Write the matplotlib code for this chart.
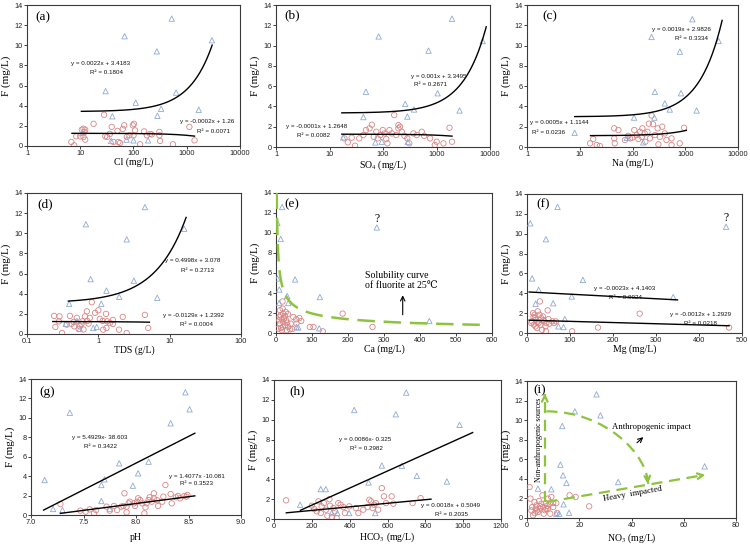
import numpy as np
import matplotlib
matplotlib.use('Agg')
import matplotlib.pyplot as plt
from matplotlib.ticker import FuncFormatter, NullLocator
from matplotlib.path import Path
from matplotlib.patches import PathPatch

plt.rcParams['font.family'] = ['Liberation Sans', 'DejaVu Sans']
plt.rcParams['mathtext.fontset'] = 'stix'

SERIF = ['Liberation Serif', 'DejaVu Serif', 'DejaVu Sans']
EQF = ['Liberation Sans', 'DejaVu Sans']
TRI_C = '#8eaad6'
CIR_C = '#d98585'
GREEN = '#8cc43c'

# ---------------- data ----------------
# (a) Cl
cl_tri_x = [11, 30, 40, 38, 68, 74, 100, 110, 188, 274, 281, 330, 522, 630, 1680, 2970]
cl_tri_f = [1.3, 5.45, 2.95, 0.5, 10.9, 0.63, 0.56, 4.3, 0.56, 9.4, 3.0, 3.7, 12.65, 5.3, 3.6, 10.5]
cl_cir_x = [6.8, 7.7, 8.4, 10.0, 10.7, 11.5, 11.5, 12.0, 12.4, 12.4, 17.8, 28, 29.5, 32, 36, 39, 42, 50, 52, 56,
            63, 67, 75, 84, 97, 100, 102, 107, 133, 158, 178, 205, 220, 306, 306, 316, 550, 1120, 1400]
cl_cir_f = [0.4, 0.07, 0.96, 0.96, 1.62, 1.72, 0.9, 1.39, 1.62, 0.63, 2.2, 3.1, 0.96, 0.9, 1.2, 1.9, 0.4, 1.5, 0.4, 0.3,
            1.7, 2.05, 0.9, 1.06, 2.05, 1.06, 2.2, 1.55, 0.17, 1.45, 1.06, 1.2, 1.15, 1.4, 1.06, 0.5, 0.17, 1.9, 0.56]
# (b) SO4
so4_tri_x = [18, 48, 43, 72, 83, 95, 260, 285, 290, 380, 710, 1050, 1950, 2700, 7300]
so4_tri_f = [0.95, 5.45, 2.95, 0.45, 10.9, 0.52, 4.25, 3.0, 0.52, 3.7, 9.5, 5.3, 12.65, 3.6, 10.45]
so4_cir_x = [19, 22, 26, 30, 36, 43, 48, 56, 62, 67, 75, 80, 89, 99, 107, 115, 121, 132, 146, 162,
             177, 194, 208, 194, 225, 252, 285, 310, 370, 428, 530, 590, 760, 1010, 1350, 1750, 1950, 930]
so4_cir_f = [0.85, 0.46, 0.92, 0.13, 0.85, 1.18, 1.67, 1.84, 2.2, 1.0, 1.5, 0.85, 1.18, 1.67, 1.34, 0.79, 0.36, 1.67, 1.34, 3.15,
             1.18, 1.84, 2.0, 2.16, 1.5, 1.1, 0.85, 0.36, 1.34, 1.18, 1.5, 1.1, 0.85, 0.52, 0.36, 1.9, 0.52, 0.2]
# (c) Na
na_tri_x = [8, 78, 107, 160, 230, 260, 266, 410, 510, 790, 830, 1360, 1640, 4300]
na_tri_f = [1.4, 0.9, 2.9, 0.46, 10.85, 2.9, 5.45, 4.3, 3.7, 9.4, 5.3, 12.6, 3.6, 10.45]
na_cir_x = [15.7, 18, 21, 24, 45, 54, 45, 46, 72, 83, 90, 99, 108, 120, 129, 139, 150, 154, 170, 175,
            192, 204, 214, 230, 245, 267, 300, 330, 366, 410, 440, 550, 950, 785, 310, 550]
na_cir_f = [0.36, 0.79, 0.2, 0.1, 1.84, 1.67, 0.85, 0.36, 0.69, 1.1, 0.85, 0.92, 1.67, 1.18, 0.79, 1.5, 1.0, 1.84, 1.34, 0.52,
            1.5, 2.3, 0.85, 3.1, 2.25, 1.18, 1.84, 1.0, 2.0, 1.34, 0.69, 0.2, 1.9, 0.36, 0.26, 0.85]
# (d) TDS
tds_tri_x = [0.35, 0.39, 0.5, 0.55, 0.67, 0.78, 0.85, 0.95, 1.1, 1.3, 1.96, 2.5, 3.15, 4.5, 6.7, 16]
tds_tri_f = [1.0, 3.0, 1.3, 0.5, 10.9, 5.45, 0.6, 0.7, 3.0, 4.3, 3.7, 9.4, 5.3, 12.6, 3.6, 10.45]
tds_cir_x = [0.24, 0.285, 0.25, 0.28, 0.31, 0.36, 0.4, 0.46, 0.5, 0.53, 0.55, 0.6, 0.65, 0.69, 0.73, 0.76, 0.81, 0.9, 1.0, 1.05,
             1.17, 1.28, 1.33, 1.45, 1.6, 1.3, 1.95, 2.2, 2.5, 1.6, 4.5, 5.0, 0.45, 0.62, 0.7, 1.15, 0.42, 0.58]
tds_cir_f = [1.8, 1.75, 0.7, 1.25, 0.1, 0.93, 1.8, 0.76, 1.6, 0.5, 0.76, 1.26, 1.75, 2.25, 1.03, 1.6, 3.15, 2.1, 2.35, 1.5,
             0.43, 2.0, 1.26, 1.1, 1.4, 0.6, 0.43, 1.7, 0.1, 1.0, 1.9, 0.6, 1.2, 0.45, 1.3, 1.3, 1.0, 1.0]
# (e) Ca
ca_tri_x = [4, 9, 13, 17, 4, 9, 31, 34, 53, 57, 62, 120, 122, 280, 426]
ca_tri_f = [11.0, 3.0, 9.4, 12.6, 5.45, 4.35, 3.7, 3.0, 5.35, 0.6, 0.55, 0.47, 3.6, 10.55, 1.2]
ca_cir_x = [11, 18.5, 20, 13, 25, 16, 28, 20, 11, 31, 25, 18.5, 34, 30, 39, 16, 6.5, 9, 41, 48,
            56, 57, 94, 104, 130, 185, 268, 70, 65, 45, 18, 22, 14, 27, 33, 10]
ca_cir_f = [2.28, 2.44, 1.94, 1.77, 1.7, 1.37, 1.27, 1.1, 0.94, 1.04, 0.77, 0.6, 0.6, 0.27, 0.37, 0.27, 0.44, 1.27, 0.94, 1.6,
            1.37, 0.94, 0.6, 0.6, 0.17, 1.94, 0.6, 1.2, 1.5, 0.4, 3.15, 1.45, 0.5, 2.1, 1.9, 1.6]
fluorite_k = 19.5          # F = k / sqrt(Ca), fluorite solubility at 25 C
fluorite_ca_range = (1.9, 570)
# (f) Mg
mg_tri_x = [7.6, 12, 20, 27, 44, 61, 71, 73, 85, 88, 104, 130, 340, 463]
mg_tri_f = [11.05, 5.5, 2.95, 4.35, 9.45, 3.0, 12.7, 0.67, 0.6, 1.4, 3.68, 5.35, 3.62, 10.7]
mg_cir_x = [14, 17.5, 12, 21, 25, 20, 29, 27, 33, 30, 37, 35, 40, 43, 44, 48, 50, 52, 16, 23,
            10, 59, 63, 67, 105, 165, 262, 470, 18, 24, 31, 38, 15, 45]
mg_cir_f = [2.0, 1.84, 1.17, 1.34, 2.18, 0.67, 1.84, 1.0, 1.5, 3.18, 1.67, 0.33, 1.17, 0.67, 0.17, 2.28, 1.4, 0.94, 0.84, 0.5,
            1.0, 1.17, 1.0, 1.17, 0.17, 0.55, 1.95, 0.55, 1.5, 1.1, 0.8, 1.3, 1.6, 1.0]
# (g) pH
ph_tri_x = [7.13, 7.21, 7.30, 7.37, 7.67, 7.67, 7.70, 7.75, 7.84, 7.97, 8.02, 8.12, 8.33, 8.47, 8.51]
ph_tri_f = [3.6, 0.62, 0.51, 10.53, 3.09, 1.44, 3.67, 0.62, 5.32, 3.02, 4.29, 5.49, 9.44, 12.63, 10.88]
ph_cir_x = [7.28, 7.47, 7.52, 7.56, 7.60, 7.62, 7.72, 7.75, 7.79, 7.82, 7.86, 7.88, 7.89, 7.91, 7.91, 7.93, 7.94, 7.98, 7.99, 8.01,
            8.02, 8.04, 8.06, 8.08, 8.09, 8.10, 8.12, 8.13, 8.15, 8.17, 8.17, 8.20, 8.21, 8.25, 8.26, 8.28, 8.33, 8.34, 8.38, 8.40,
            8.42, 8.46, 8.48, 8.49]
ph_cir_f = [1.13, 0.45, 0.34, 0.58, 0.17, 0.51, 0.86, 0.45, 0.93, 0.51, 0.86, 0.93, 2.23, 0.86, 0.27, 1.2, 1.37, 1.2, 0.93, 1.37,
            1.72, 1.54, 1.2, 0.17, 0.79, 1.2, 1.54, 1.82, 1.37, 2.23, 1.72, 1.54, 0.93, 1.37, 1.89, 3.09, 2.16, 1.2, 1.82, 1.96,
            1.72, 1.96, 1.89, 2.06]
# (h) HCO3
hco3_tri_x = [138, 247, 274, 305, 335, 397, 424, 500, 535, 570, 644, 676, 699, 755, 914, 981]
hco3_tri_f = [1.44, 3.01, 3.01, 0.6, 0.6, 0.6, 10.98, 3.68, 0.6, 5.39, 10.55, 5.36, 12.73, 4.35, 3.78, 9.48]
hco3_cir_x = [64, 200, 212, 226, 235, 247, 252, 264, 275, 282, 293, 296, 307, 314, 322, 331, 340, 352, 367, 375,
              398, 433, 446, 472, 494, 504, 513, 522, 529, 539, 551, 570, 581, 592, 622, 631, 733, 775]
hco3_cir_f = [1.88, 1.34, 1.0, 0.77, 1.78, 0.6, 1.27, 1.6, 0.94, 0.33, 2.0, 1.34, 0.2, 1.1, 0.77, 0.1, 1.6, 1.44, 1.2, 0.6,
              1.27, 1.1, 0.6, 0.94, 1.2, 1.94, 1.78, 1.1, 1.44, 1.6, 0.94, 3.11, 2.28, 1.6, 2.28, 1.54, 1.6, 2.1]
# (i) NO3
no3_tri_x = [4.2, 9.3, 11.2, 12.3, 12.8, 13.5, 13.8, 14.0, 15.1, 16.1, 18.3, 26.6, 28.1, 34.9, 68]
no3_tri_f = [3.0, 2.93, 0.44, 0.44, 5.45, 9.4, 4.36, 1.4, 3.58, 0.54, 10.9, 12.64, 10.49, 3.68, 5.28]
no3_cir_x = [1.0, 1.3, 2.0, 2.9, 3.6, 3.8, 4.6, 4.9, 5.5, 5.9, 6.1, 6.4, 7.2, 7.4, 8.0, 8.7, 8.9, 9.3, 10.0, 11.2,
             11.5, 16.3, 18.6, 23.8, 1.7, 2.3, 3.3, 4.2, 8.0, 10.0, 5.0, 6.8, 3.0, 7.8]
no3_cir_f = [3.17, 1.98, 1.12, 1.63, 1.29, 0.78, 1.74, 0.95, 1.46, 2.32, 1.12, 0.44, 1.53, 0.95, 1.98, 1.46, 0.44, 2.15, 1.12, 1.53,
             0.51, 2.32, 2.15, 1.19, 0.78, 0.27, 0.95, 0.61, 0.95, 1.53, 1.2, 0.8, 0.5, 1.25]
# (i) annotation paths
no3_vert_arrow = [(6.8, 1.6), (6.8, 13.0)]
no3_curve_ctrl = [(7.4, 10.9), (30.0, 10.9), (46.4, 6.5), (46.4, 3.3)]
no3_horiz_arrow = [(7.4, 1.63), (69.3, 4.46)]

# trend lines: (slope, intercept, x-range)
trend_a = [(0.0022, 3.4183, (10.5, 3000)), (-0.0002, 1.26, (7, 1400))]
trend_b = [(0.001, 3.3495, (17, 8500)), (-0.0001, 1.2648, (17, 1950))]
trend_c = [(0.0019, 2.9826, (8, 5000)), (0.0005, 1.1144, (16, 1050))]
trend_d = [(0.4998, 3.078, (0.38, 17)), (-0.0129, 1.2392, (0.23, 5.2))]
trend_f = [(-0.0023, 4.1403, (5, 350)), (-0.0012, 1.2929, (5, 470))]
trend_g = [(5.4929, -38.603, (7.12, 8.56)), (1.4077, -10.081, (7.28, 8.56))]
trend_h = [(0.0086, -0.325, (140, 1050)), (0.0018, 0.5049, (65, 830))]

# ---------------- drawing ----------------
fig = plt.figure(figsize=(7.5, 5.47), dpi=100)


def make_ax(l, r, t, b):
    return fig.add_axes([l / 750, 1 - b / 547, (r - l) / 750, (b - t) / 547])


def base(ax, xlabel, tag, tagpos, xpad=0.5):
    for s in ax.spines.values():
        s.set_linewidth(0.8)
        s.set_color('#3a3a3a')
    ax.tick_params(axis='both', direction='out', length=2, width=0.6, labelsize=5.3,
                   colors='#222222', pad=1)
    ax.set_ylim(0, 14)
    ax.set_yticks(np.arange(0, 15, 2))
    ax.set_ylabel('F (mg/L)', family=SERIF, fontsize=8, labelpad=2.5)
    ax.set_xlabel(xlabel, family=SERIF, fontsize=7, labelpad=xpad)
    ax.text(tagpos[0], tagpos[1], tag, transform=ax.transAxes, family=SERIF,
            fontsize=9.5, ha='center', va='center', zorder=6)


def pts(ax, tx, ty, cx, cy):
    ax.scatter(cx, cy, s=15, facecolors='none', edgecolors=CIR_C, linewidths=0.6, zorder=3)
    ax.scatter(tx, ty, s=15, marker='^', facecolors='none', edgecolors=TRI_C, linewidths=0.6, zorder=3)


def trends(ax, lines, log):
    for a, b, xr in lines:
        x = np.geomspace(xr[0], xr[1], 300) if log else np.linspace(xr[0], xr[1], 2)
        ax.plot(x, a * x + b, color='black', lw=1.0, zorder=4)


def eq(ax, pos, s, ha='center'):
    ax.text(pos[0], pos[1], s, transform=ax.transAxes, fontsize=4.5, family=EQF,
            ha=ha, va='center', color='#111111', zorder=5)


def logx(ax, lo, hi, ticks):
    ax.set_xscale('log')
    ax.set_xlim(lo, hi)
    ax.set_xticks(ticks)
    ax.xaxis.set_major_formatter(FuncFormatter(lambda v, p: f'{v:g}'))
    ax.xaxis.set_minor_locator(NullLocator())


# (a)
ax = make_ax(27, 240, 5, 146)
pts(ax, cl_tri_x, cl_tri_f, cl_cir_x, cl_cir_f)
trends(ax, trend_a, True)
logx(ax, 1, 10000, [1, 10, 100, 1000, 10000])
base(ax, 'Cl (mg/L)', '(a)', (0.075, 0.915))
eq(ax, (0.344, 0.584), 'y = 0.0022x + 3.4183')
eq(ax, (0.372, 0.518), 'R² = 0.1804')
eq(ax, (0.844, 0.177), 'y = -0.0002x + 1.26')
eq(ax, (0.875, 0.106), 'R² = 0.0071')

# (b)
ax = make_ax(276, 490, 5, 147)
pts(ax, so4_tri_x, so4_tri_f, so4_cir_x, so4_cir_f)
trends(ax, trend_b, True)
logx(ax, 1, 10000, [1, 10, 100, 1000, 10000])
base(ax, r'SO$_4$ (mg/L)', '(b)', (0.075, 0.925))
eq(ax, (0.759, 0.499), 'y = 0.001x + 3.3495')
eq(ax, (0.72, 0.443), 'R² = 0.2671')
eq(ax, (0.191, 0.143), 'y = -0.0001x + 1.2648')
eq(ax, (0.176, 0.084), 'R² = 0.0082')

# (c)
ax = make_ax(527, 738, 5, 147)
pts(ax, na_tri_x, na_tri_f, na_cir_x, na_cir_f)
trends(ax, trend_c, True)
logx(ax, 1, 10000, [1, 10, 100, 1000, 10000])
base(ax, 'Na (mg/L)', '(c)', (0.11, 0.92))
eq(ax, (0.732, 0.827), 'y = 0.0019x + 2.9826')
eq(ax, (0.78, 0.763), 'R² = 0.3334')
eq(ax, (0.016, 0.171), 'y = 0.0005x + 1.1144', ha='left')
eq(ax, (0.024, 0.103), 'R² = 0.0236', ha='left')

# (d)
ax = make_ax(27, 241, 193, 334)
pts(ax, tds_tri_x, tds_tri_f, tds_cir_x, tds_cir_f)
trends(ax, trend_d, True)
logx(ax, 0.1, 100, [0.1, 1, 10, 100])
base(ax, 'TDS (g/L)', '(d)', (0.085, 0.917))
eq(ax, (0.776, 0.52), 'y = 0.4998x + 3.078')
eq(ax, (0.795, 0.452), 'R² = 0.2713')
eq(ax, (0.776, 0.13), 'y = -0.0129x + 1.2392')
eq(ax, (0.792, 0.066), 'R² = 0.0004')

# (e)
ax = make_ax(276, 492, 193, 333)
pts(ax, ca_tri_x, ca_tri_f, ca_cir_x, ca_cir_f)
ca = np.geomspace(fluorite_ca_range[0], fluorite_ca_range[1], 400)
ax.plot(ca, fluorite_k / np.sqrt(ca), color=GREEN, lw=1.8, dashes=(7, 3.5), zorder=4)
ax.set_xlim(0, 600)
ax.set_xticks(np.arange(0, 601, 100))
base(ax, 'Ca (mg/L)', '(e)', (0.073, 0.917))
ax.text(280, 11.4, '?', family=SERIF, fontsize=8.5, ha='center', va='center')
ax.text(247, 5.25, 'Solubility curve\nof fluorite at 25℃', family=SERIF, fontsize=7,
        ha='left', va='center', linespacing=1.25)
ax.annotate('', xy=(352, 4.05), xytext=(352, 1.55),
            arrowprops=dict(arrowstyle='->', color='black', lw=0.8, mutation_scale=8))

# (f)
ax = make_ax(527, 742, 194, 333)
pts(ax, mg_tri_x, mg_tri_f, mg_cir_x, mg_cir_f)
trends(ax, trend_f, False)
ax.set_xlim(0, 500)
ax.set_xticks(np.arange(0, 501, 100))
base(ax, 'Mg (mg/L)', '(f)', (0.073, 0.928))
ax.text(463, 11.6, '?', family=SERIF, fontsize=8.5, ha='center', va='center')
eq(ax, (0.454, 0.323), 'y = -0.0023x + 4.1403')
eq(ax, (0.457, 0.258), 'R² = 0.0024')
eq(ax, (0.805, 0.132), 'y = -0.0012x + 1.2929')
eq(ax, (0.808, 0.067), 'R² = 0.0218')

# (g)
ax = make_ax(31, 241, 379, 515)
pts(ax, ph_tri_x, ph_tri_f, ph_cir_x, ph_cir_f)
trends(ax, trend_g, False)
ax.set_xlim(7.0, 9.0)
ax.set_xticks(np.arange(7.0, 9.01, 0.5))
ax.xaxis.set_major_formatter(FuncFormatter(lambda v, p: f'{v:.1f}'))
base(ax, 'pH', '(g)', (0.075, 0.907), xpad=5)
eq(ax, (0.329, 0.571), 'y = 5.4929x- 38.603')
eq(ax, (0.329, 0.502), 'R² = 0.3422')
eq(ax, (0.79, 0.282), 'y = 1.4077x -10.081')
eq(ax, (0.79, 0.228), 'R² = 0.3523')

# (h)
ax = make_ax(274, 501, 380, 519)
pts(ax, hco3_tri_x, hco3_tri_f, hco3_cir_x, hco3_cir_f)
trends(ax, trend_h, False)
ax.set_xlim(0, 1200)
ax.set_xticks(np.arange(0, 1201, 200))
base(ax, r'HCO$_3$ (mg/L)', '(h)', (0.1, 0.916))
eq(ax, (0.401, 0.574), 'y = 0.0086x- 0.325')
eq(ax, (0.409, 0.51), 'R² = 0.2982')
eq(ax, (0.776, 0.096), 'y = 0.0018x + 0.5049')
eq(ax, (0.784, 0.031), 'R² = 0.2035')

# (i)
ax = make_ax(527, 736, 381, 518)
pts(ax, no3_tri_x, no3_tri_f, no3_cir_x, no3_cir_f)
ax.set_xlim(0, 80)
ax.set_xticks(np.arange(0, 81, 20))
base(ax, r'NO$_3$ (mg/L)', '(i)', (0.06, 0.93), xpad=1.5)
gkw = dict(color=GREEN, lw=1.6, zorder=4)
(x0, y0), (x1, y1) = no3_vert_arrow
ax.plot([x0, x1], [y0, y1 - 0.3], dashes=(5, 3), **gkw)
ax.annotate('', xy=(x1, y1), xytext=(x1, y1 - 0.8),
            arrowprops=dict(arrowstyle='->', color=GREEN, lw=1.6, mutation_scale=10))
path = Path(no3_curve_ctrl, [Path.MOVETO, Path.CURVE4, Path.CURVE4, Path.CURVE4])
ax.add_patch(PathPatch(path, fill=False, edgecolor=GREEN, lw=1.6, linestyle=(0, (5, 3)), zorder=4))
ex, ey = no3_curve_ctrl[-1]
ax.annotate('', xy=(ex, ey - 0.1), xytext=(ex - 0.3, ey + 0.8),
            arrowprops=dict(arrowstyle='->', color=GREEN, lw=1.6, mutation_scale=10))
(hx0, hy0), (hx1, hy1) = no3_horiz_arrow
ax.plot([hx0, hx1 - 1.5], [hy0, hy1 - 0.07], dashes=(5, 3), **gkw)
ax.annotate('', xy=(hx1, hy1), xytext=(hx1 - 4, hy1 - 0.18),
            arrowprops=dict(arrowstyle='->', color=GREEN, lw=1.6, mutation_scale=10))
ax.text(4.6, 8.0, 'Non-anthropogenic sources', family=SERIF, fontsize=5.5,
        rotation=90, ha='center', va='center')
ax.text(47.5, 9.25, 'Anthropogenic impact', family=SERIF, fontsize=6.3, ha='center', va='center')
ax.annotate('', xy=(45.3, 8.45), xytext=(41.3, 7.5),
            arrowprops=dict(arrowstyle='->', color='black', lw=0.8, mutation_scale=8))
ax.text(40.5, 2.5, 'Heavy  impacted', family=SERIF, fontsize=6.3, rotation=10,
        ha='center', va='center')

fig.savefig('out.png', dpi=100)
